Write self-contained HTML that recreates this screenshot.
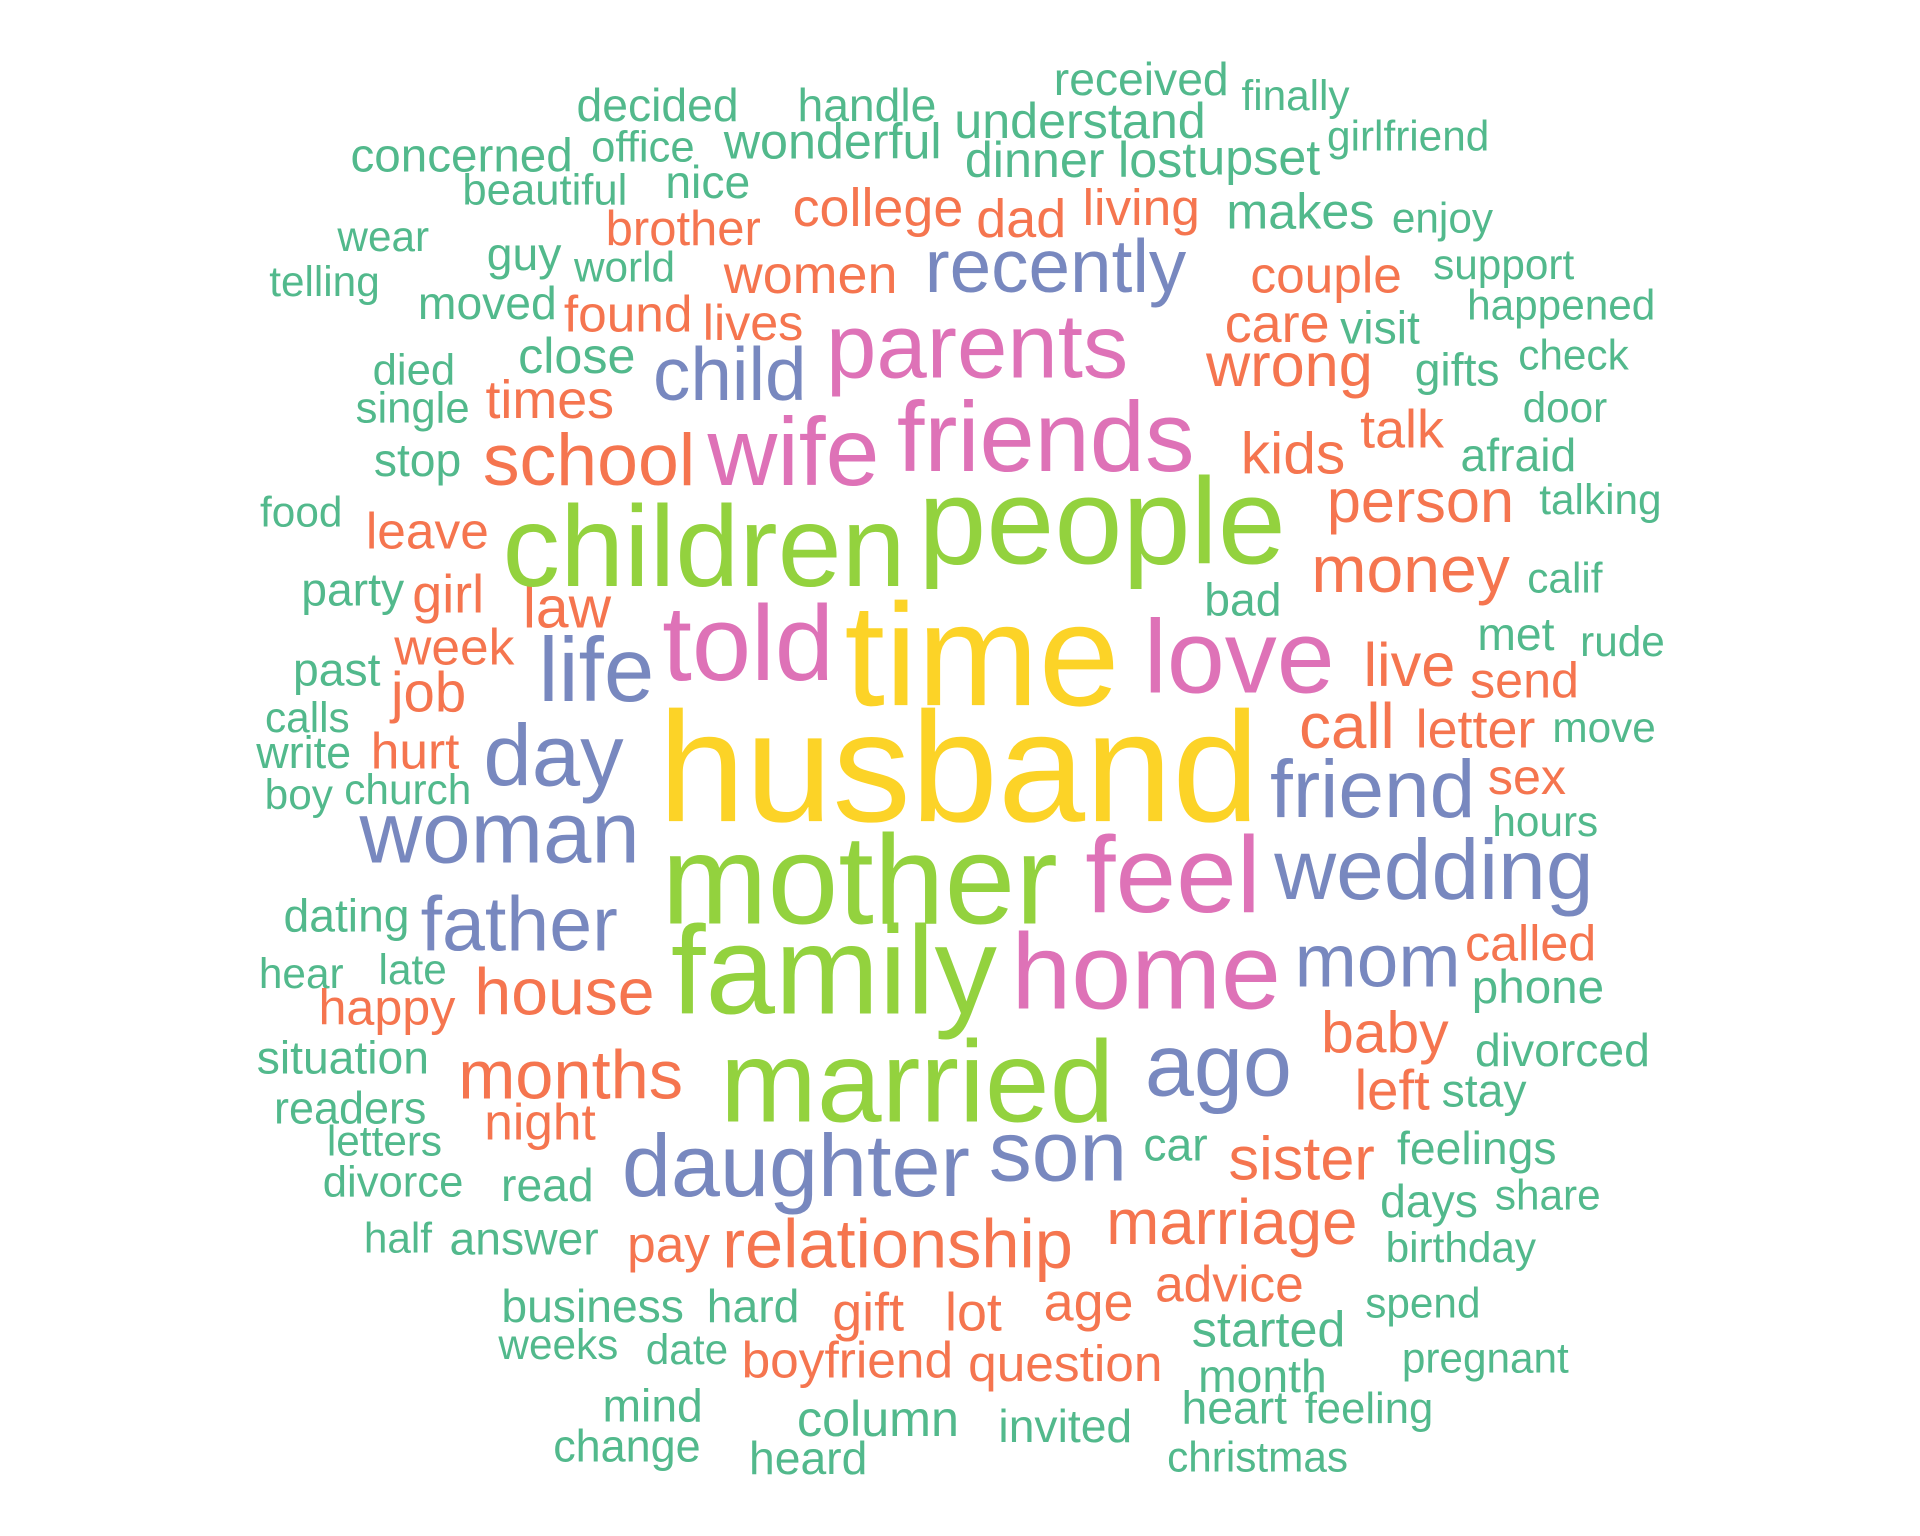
<!DOCTYPE html>
<html><head><meta charset="utf-8"><style>
html,body{margin:0;padding:0;background:#fff;}
svg{display:block;}
text{font-family:"Liberation Sans",Arial,sans-serif;}
</style></head><body>
<svg id="cloud" width="1920" height="1536" viewBox="0 0 1568 1254" xmlns="http://www.w3.org/2000/svg">
<rect width="1568" height="1254" fill="#fff"/>
</svg>
<script>
const words = ["received","finally","decided","handle","understand","girlfriend","concerned","office","wonderful","dinner","lost","upset","beautiful","nice","makes","enjoy","wear","guy","world","support","telling","moved","visit","happened","died","close","gifts","check","single","door","stop","afraid","food","talking","party","calif","bad","met","rude","past","calls","move","write","boy","church","hours","dating","phone","hear","late","situation","divorced","readers","stay","letters","car","feelings","divorce","read","share","days","half","answer","birthday","business","hard","spend","started","weeks","date","pregnant","month","mind","heart","feeling","column","invited","change","christmas","heard",
"brother","college","dad","living","women","couple","found","lives","care","wrong","times","kids","talk","school","person","leave","money","girl","law","week","job","live","send","letter","call","hurt","sex","called","happy","house","baby","months","left","night","sister","marriage","pay","relationship","advice","age","gift","lot","boyfriend","question",
"recently","child","life","day","woman","friend","wedding","father","mom","ago","daughter","son",
"parents","wife","friends","told","love","feel","home",
"children","people","mother","family","married",
"time","husband"];
const sizes = [35,32,35,35,38,32,36,33,38,38,38,38,33,35,38,32,32,35,32,32,32,35,35,32,33,38,35,32,33,32,35,35,32,32,35,32,35,35,32,35,32,32,34,32,32,32,35,36,32,32,35,35,34,35,32,35,35,33,35,32,35,32,35,32,35,35,32,38,32,32,32,35,35,35,33,38,35,34,32,35,
40,44,44,42,44,42,42,38,44,50,44,48,44,60,50,42,54,44,48,42,46,50,38,44,52,42,38,38,38,54,48,56,46,42,50,52,42,56,42,44,44,44,42,42,
61,61,74,71,71,67,70,63,61,72,72,70,
74,79,81,87,85,89,88,
94,100,104,102,95,
119,128];
const groups = [].concat(Array(80).fill(0),Array(44).fill(1),Array(12).fill(2),Array(7).fill(3),Array(5).fill(4),Array(2).fill(5));
const palette = ["#52b98c","#f5754f","#7888bf","#de72b7","#93d23e","#fcd327"];
const layoutX = [932,1058,537,708,882,1150,377,525,680,845,945,1028,445,578,1062,1178,313,428,510,1228,265,398,1127,1275,338,471,1190,1285,337,1278,341,1240,246,1307,288,1278,1015,1238,1325,275,251,1310,248,244,333,1262,283,1256,246,337,280,1276,286,1212,314,960,1206,321,447,1264,1167,325,428,1193,484,615,1162,1036,456,561,1213,1031,533,1008,1118,717,870,512,1027,660,
558,717,834,932,662,1083,513,615,1043,1053,449,1056,1145,481,1160,349,1152,366,463,371,350,1151,1245,1205,1100,339,1247,1250,316,461,1131,466,1137,441,1063,1006,546,733,1004,889,709,795,692,870,
862,596,487,452,408,1121,1171,424,1125,995,650,864,
798,648,854,611,1012,958,936,
575,900,702,681,749,
802,783];
const layoutY = [67,80,88,88,101,113,129,122,118,133,133,131,157,151,175,180,195,210,220,218,232,250,270,251,304,293,304,292,335,335,378,374,420,410,484,474,492,520,526,549,588,596,617,651,647,673,750,808,797,794,866,860,907,893,934,937,940,967,970,978,983,1013,1014,1021,1069,1069,1066,1088,1100,1104,1111,1126,1150,1152,1152,1161,1167,1183,1192,1193,
188,171,180,171,226,226,258,266,266,300,328,372,352,378,411,435,467,487,498,530,567,545,558,597,595,615,637,773,825,812,845,880,892,918,948,1000,1018,1018,1050,1065,1073,1073,1112,1115,
220,308,550,620,683,647,713,757,787,873,955,943,
286,372,360,529,540,718,797,
450,430,723,797,887,
540,632];
const svg = document.getElementById('cloud');
const NS = "http://www.w3.org/2000/svg";
for (let i = 0; i < words.length; i++) {
  const fs = sizes[i] < 40 ? sizes[i] * 1.08 : sizes[i];
  const t = document.createElementNS(NS, 'text');
  t.setAttribute('x', layoutX[i]);
  t.setAttribute('y', layoutY[i] + 0.30 * sizes[i]);
  t.setAttribute('font-size', fs);
  t.setAttribute('text-anchor', 'middle');
  t.setAttribute('fill', palette[groups[i]]);
  
  
  t.textContent = words[i];
  svg.appendChild(t);
}
</script>
</body></html>
